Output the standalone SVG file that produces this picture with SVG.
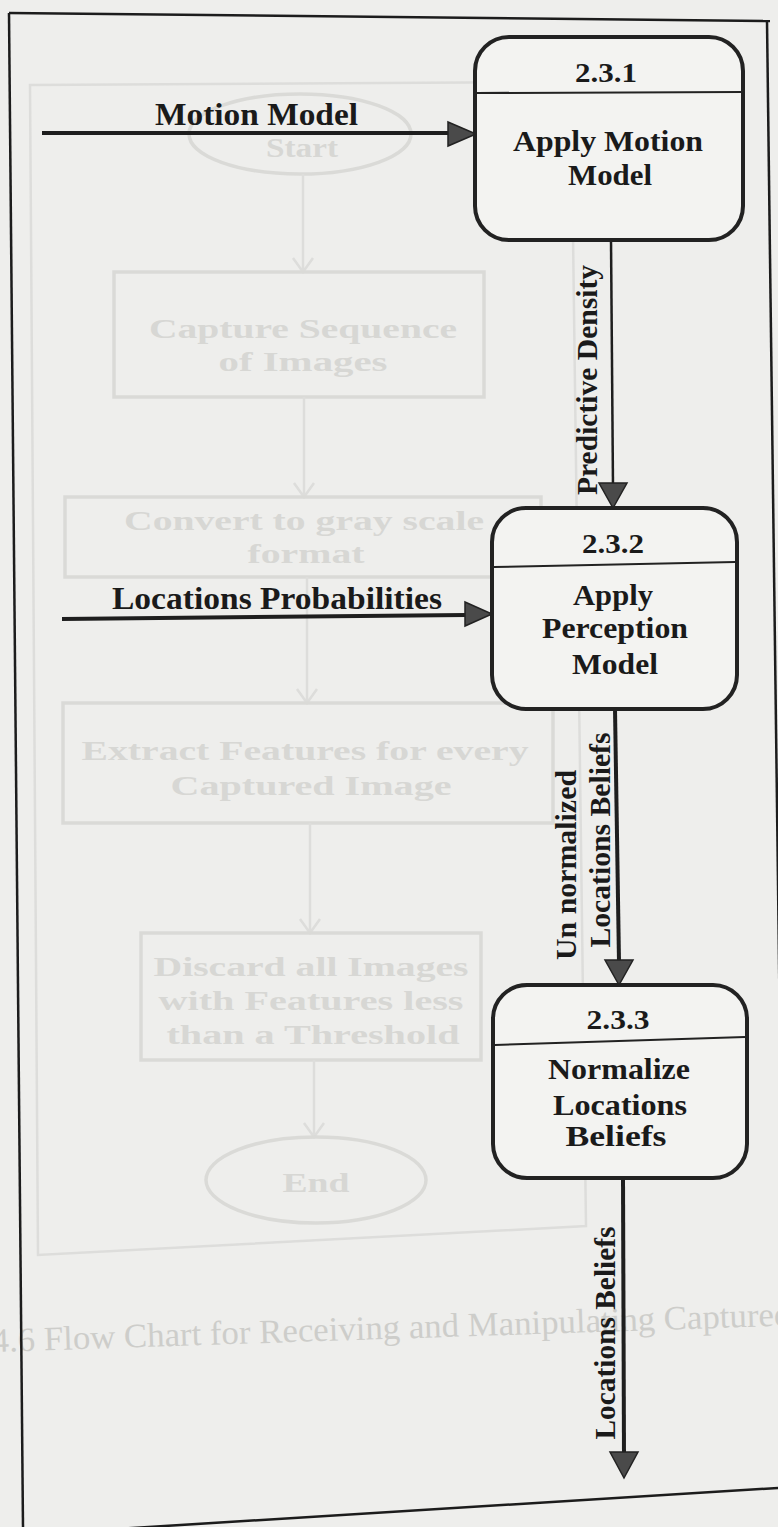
<svg xmlns="http://www.w3.org/2000/svg" width="778" height="1527" viewBox="0 0 778 1527">
  <style>
    .page { fill: #eeeeec; }
    .frame { fill: none; stroke: #1c1c1c; stroke-width: 2.5; }
    .proc { fill: #f3f3f1; stroke: #222; stroke-width: 4; }
    .divider { stroke: #222; stroke-width: 2; }
    .num { font-family: "Liberation Serif", "Times New Roman", serif; font-weight: bold; font-size: 27px; fill: #1a1a1a; text-anchor: middle; }
    .title { font-family: "Liberation Serif", "Times New Roman", serif; font-weight: bold; font-size: 30px; fill: #1a1a1a; text-anchor: middle; }
    .flow { fill: none; stroke: #1e1e1e; stroke-width: 4; }
    .flow-thin { fill: none; stroke: #1e1e1e; stroke-width: 2.5; }
    .head { fill: #4a4a4a; stroke: #222; stroke-width: 1.5; stroke-linejoin: miter; }
    .label { font-family: "Liberation Serif", "Times New Roman", serif; font-weight: bold; font-size: 31px; fill: #1a1a1a; }
    .vlabel { font-family: "Liberation Serif", "Times New Roman", serif; font-weight: bold; font-size: 30px; fill: #1a1a1a; text-anchor: middle; }
    .ghost-line { fill: none; stroke: #dadad7; stroke-width: 3.5; }
    .ghost-thin { fill: none; stroke: #dddddb; stroke-width: 2.5; }
    .ghost-text { font-family: "Liberation Serif", "Times New Roman", serif; font-weight: bold; font-size: 28px; fill: #d7d7d4; text-anchor: middle; }
    .ghost-caption { font-family: "Liberation Serif", "Times New Roman", serif; font-size: 34px; fill: #cdcdca; }
  </style>

  <!-- paper -->
  <rect class="page" x="0" y="0" width="778" height="1527"/>

  <!-- faint flow chart showing through from the page underneath -->
  <g id="show-through">
    <path class="ghost-thin" d="M30,85 L571,82 L586,1226 L38,1255 Z"/>
    <ellipse class="ghost-line" cx="300" cy="134" rx="111" ry="40"/>
    <text class="ghost-text" x="302" y="157" font-size="25" textLength="72" lengthAdjust="spacingAndGlyphs">Start</text>
    <path class="ghost-thin" d="M303,174 V272 M293,258 L303,272 L313,258"/>
    <rect class="ghost-line" x="114" y="272" width="370" height="125"/>
    <text class="ghost-text" x="303" y="338" textLength="308" lengthAdjust="spacingAndGlyphs">Capture Sequence</text>
    <text class="ghost-text" x="303" y="371" textLength="169" lengthAdjust="spacingAndGlyphs">of Images</text>
    <path class="ghost-thin" d="M304,397 V497 M294,483 L304,497 L314,483"/>
    <rect class="ghost-line" x="65" y="497" width="476" height="80"/>
    <text class="ghost-text" x="304" y="530" textLength="360" lengthAdjust="spacingAndGlyphs">Convert to gray scale</text>
    <text class="ghost-text" x="306" y="563" textLength="117" lengthAdjust="spacingAndGlyphs">format</text>
    <path class="ghost-thin" d="M307,577 V703 M297,689 L307,703 L317,689"/>
    <rect class="ghost-line" x="63" y="703" width="490" height="120"/>
    <text class="ghost-text" x="305" y="760" textLength="447" lengthAdjust="spacingAndGlyphs">Extract Features for every</text>
    <text class="ghost-text" x="311" y="795" textLength="281" lengthAdjust="spacingAndGlyphs">Captured Image</text>
    <path class="ghost-thin" d="M310,823 V933 M300,919 L310,933 L320,919"/>
    <rect class="ghost-line" x="141" y="933" width="340" height="127"/>
    <text class="ghost-text" x="311" y="976" textLength="315" lengthAdjust="spacingAndGlyphs">Discard all Images</text>
    <text class="ghost-text" x="311" y="1010" textLength="305" lengthAdjust="spacingAndGlyphs">with Features less</text>
    <text class="ghost-text" x="313" y="1044" textLength="293" lengthAdjust="spacingAndGlyphs">than a Threshold</text>
    <path class="ghost-thin" d="M314,1060 V1137 M304,1123 L314,1137 L324,1123"/>
    <ellipse class="ghost-line" cx="316" cy="1180" rx="110" ry="43"/>
    <text class="ghost-text" x="316" y="1192" textLength="67" lengthAdjust="spacingAndGlyphs">End</text>
    <text class="ghost-caption" x="-8" y="1352" transform="rotate(-1.9 -8 1352)" textLength="800" lengthAdjust="spacingAndGlyphs">4.6 Flow Chart for Receiving and Manipulating Captured</text>
  </g>

  <!-- border drawn around the figure -->
  <g id="border">
    <path class="frame" d="M9,13 L770,21"/>
    <path class="frame" d="M9,13 L23,1527"/>
    <path class="frame" d="M767,21 L780,1040"/>
    <path class="frame" d="M100,1530 L778,1488"/>
  </g>

  <!-- data flows -->
  <g id="connectors">
    <path class="flow" d="M42,133 H450"/>
    <polygon class="head" points="448,122 476,134 448,146"/>
    <text class="label" x="155" y="125" textLength="203" lengthAdjust="spacingAndGlyphs">Motion Model</text>

    <path class="flow" d="M62,619 L466,615"/>
    <polygon class="head" points="465,602 492,614 465,626"/>
    <text class="label" x="112" y="609" textLength="330" lengthAdjust="spacingAndGlyphs">Locations Probabilities</text>

    <path class="flow-thin" d="M611,240 L613,486"/>
    <polygon class="head" points="599,483 627,483 613,508"/>
    <text class="vlabel" transform="translate(597,380) rotate(-90)" textLength="230" lengthAdjust="spacingAndGlyphs">Predictive Density</text>

    <path class="flow" d="M615,709 L619,962"/>
    <polygon class="head" points="605,960 633,960 619,985"/>
    <text class="vlabel" transform="translate(576,865) rotate(-90)" textLength="190" lengthAdjust="spacingAndGlyphs">Un normalized</text>
    <text class="vlabel" transform="translate(610,840) rotate(-90)" textLength="215" lengthAdjust="spacingAndGlyphs">Locations Beliefs</text>

    <path class="flow" d="M623,1178 L624,1455"/>
    <polygon class="head" points="610,1452 638,1452 624,1478"/>
    <text class="vlabel" transform="translate(615,1333) rotate(-90)" textLength="213" lengthAdjust="spacingAndGlyphs">Locations Beliefs</text>
  </g>

  <!-- process 2.3.1 -->
  <g id="process-2-3-1">
    <rect class="proc" x="475" y="37" width="268" height="203" rx="34" ry="34"/>
    <line class="divider" x1="477" y1="93" x2="741" y2="92"/>
    <text class="num" x="606" y="82" textLength="62" lengthAdjust="spacingAndGlyphs">2.3.1</text>
    <text class="title" x="608" y="151" textLength="190" lengthAdjust="spacingAndGlyphs">Apply Motion</text>
    <text class="title" x="610" y="185" textLength="84" lengthAdjust="spacingAndGlyphs">Model</text>
  </g>

  <!-- process 2.3.2 -->
  <g id="process-2-3-2">
    <rect class="proc" x="492" y="508" width="245" height="201" rx="34" ry="34"/>
    <line class="divider" x1="494" y1="567" x2="735" y2="562"/>
    <text class="num" x="613" y="553" textLength="62" lengthAdjust="spacingAndGlyphs">2.3.2</text>
    <text class="title" x="613" y="605" textLength="80" lengthAdjust="spacingAndGlyphs">Apply</text>
    <text class="title" x="615" y="638" textLength="146" lengthAdjust="spacingAndGlyphs">Perception</text>
    <text class="title" x="615" y="674" textLength="86" lengthAdjust="spacingAndGlyphs">Model</text>
  </g>

  <!-- process 2.3.3 -->
  <g id="process-2-3-3">
    <rect class="proc" x="493" y="985" width="254" height="193" rx="34" ry="34"/>
    <line class="divider" x1="495" y1="1045" x2="745" y2="1037"/>
    <text class="num" x="618" y="1029" textLength="63" lengthAdjust="spacingAndGlyphs">2.3.3</text>
    <text class="title" x="619" y="1079" textLength="142" lengthAdjust="spacingAndGlyphs">Normalize</text>
    <text class="title" x="620" y="1115" textLength="134" lengthAdjust="spacingAndGlyphs">Locations</text>
    <text class="title" x="616" y="1146" textLength="101" lengthAdjust="spacingAndGlyphs">Beliefs</text>
  </g>
</svg>
